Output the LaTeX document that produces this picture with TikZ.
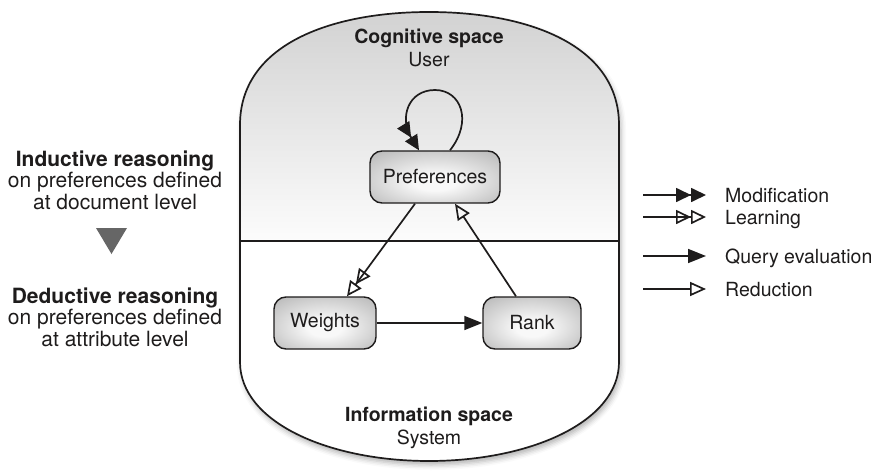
\documentclass[tikz,border=0pt]{standalone}
\usepackage{fontspec}
\setmainfont{TeX Gyre Heros}
\usetikzlibrary{arrows.meta,shadows.blur}
\definecolor{ink}{RGB}{30,28,28}
\definecolor{boxedge}{RGB}{170,170,170}
\definecolor{boxmid}{RGB}{248,248,248}
\definecolor{cogtop}{RGB}{208,208,208}
\definecolor{cogbot}{RGB}{252,252,252}
\definecolor{stepgray}{RGB}{102,102,102}
% soft glow for the state boxes, brightest a little below the centre
\pgfdeclareradialshading{statebox}{\pgfpoint{0bp}{-6bp}}{%
  color(0bp)=(boxmid); color(8bp)=(boxmid); color(42bp)=(boxedge); color(50bp)=(boxedge)}
\begin{document}
\begin{tikzpicture}[x=1pt,y=-1pt,
  font=\fontsize{19.5}{22}\selectfont,
  every node/.style={text=ink},
  label/.style={inner sep=0pt, anchor=base},
  side/.style={inner sep=0pt, anchor=base, font=\fontsize{21}{23}\selectfont},
  legendtext/.style={inner sep=0pt, anchor=base west},
  box/.style={draw=ink, line width=1.4pt, rounded corners=12pt,
    minimum height=52pt, shading=statebox},
  conn/.style={draw=ink, line width=1.7pt},
  modif/.style={conn, -{Triangle[length=15pt,width=14pt] Triangle[length=15pt,width=14pt]}},
  learn/.style={conn, -{Triangle[open,length=15pt,width=14pt] Triangle[open,length=15pt,width=14pt]}},
  query/.style={conn, -{Triangle[length=18pt,width=14pt]}},
  reduce/.style={conn, -{Triangle[open,length=16pt,width=14pt]}}]
\useasboundingbox (0,0) rectangle (871,471);

% outline of the two spaces
\def\spacepath{(240,125) .. controls (240,45) and (330,12) .. (429,12)
  .. controls (528,12) and (619,45) .. (619,125) -- (619,362)
  .. controls (619,422) and (530,461) .. (429,461)
  .. controls (328,461) and (240,422) .. (240,362) -- cycle}

\fill[white, blur shadow={shadow xshift=2pt, shadow yshift=-4pt,
  shadow opacity=30, shadow blur radius=5pt}] \spacepath;
\begin{scope}
  \clip \spacepath;
  \shade[top color=cogtop, bottom color=cogbot] (230,0) rectangle (630,241);
\end{scope}
\draw[ink, line width=1.7pt] \spacepath;
\coordinate (divl) at (240,241);
\coordinate (divr) at (619,241);
\draw[ink, line width=1.4pt] (divl) -- (divr);

% space titles
\node[label, font=\fontsize{19.5}{22}\selectfont\bfseries] (cog) at (429,43) {Cognitive space};
\node[label] (user) at (429,66) {User};
\node[label, font=\fontsize{19.5}{22}\selectfont\bfseries] (info) at (429,421) {Information space};
\node[label] (sys) at (429,444) {System};

% the three states
\node[box, minimum width=130pt] (pref) at (435,177) {Preferences};
\node[box, minimum width=102pt] (weights) at (325,323) {Weights};
\node[box, minimum width=98pt] (rank) at (532,323) {Rank};

% transitions
\draw[modif] ([xshift=15pt]pref.north) .. controls (473,121) and (461,90) .. (435,90)
  .. controls (408,90) and (399,118) .. ([xshift=-16pt]pref.north);
\draw[learn] ([xshift=-20pt]pref.south) -- ([xshift=22pt]weights.north);
\draw[reduce] ([xshift=-16pt]rank.north) -- ([xshift=20pt]pref.south);
\draw[query] (weights.east) -- (rank.west);

% legend
\coordinate (m1) at (643,195); \coordinate (m2) at (706,195);
\coordinate (l1) at (643,217); \coordinate (l2) at (706,217);
\coordinate (q1) at (643,256); \coordinate (q2) at (706,256);
\coordinate (r1) at (643,289); \coordinate (r2) at (706,289);
\draw[modif] (m1) -- (m2);
\draw[learn] (l1) -- (l2);
\draw[query] (q1) -- (q2);
\draw[reduce] (r1) -- (r2);
\node[legendtext] (lm) at (725,202) {Modification};
\node[legendtext] (ll) at (725,224) {Learning};
\node[legendtext] (lq) at (725,263) {Query evaluation};
\node[legendtext] (lr) at (725,296) {Reduction};

% reasoning levels
\node[side, font=\fontsize{21}{23}\selectfont\bfseries] (ind1) at (115,166) {Inductive reasoning};
\node[side] (ind2) at (115,187.5) {on preferences defined};
\node[side] (ind3) at (115,209) {at document level};
\fill[stepgray] (96,228) -- (127,228) -- (111.5,254) -- cycle;
\node[side, font=\fontsize{21}{23}\selectfont\bfseries] (ded1) at (115,303) {Deductive reasoning};
\node[side] (ded2) at (115,324.5) {on preferences defined};
\node[side] (ded3) at (115,346) {at attribute level};
\end{tikzpicture}
\end{document}
